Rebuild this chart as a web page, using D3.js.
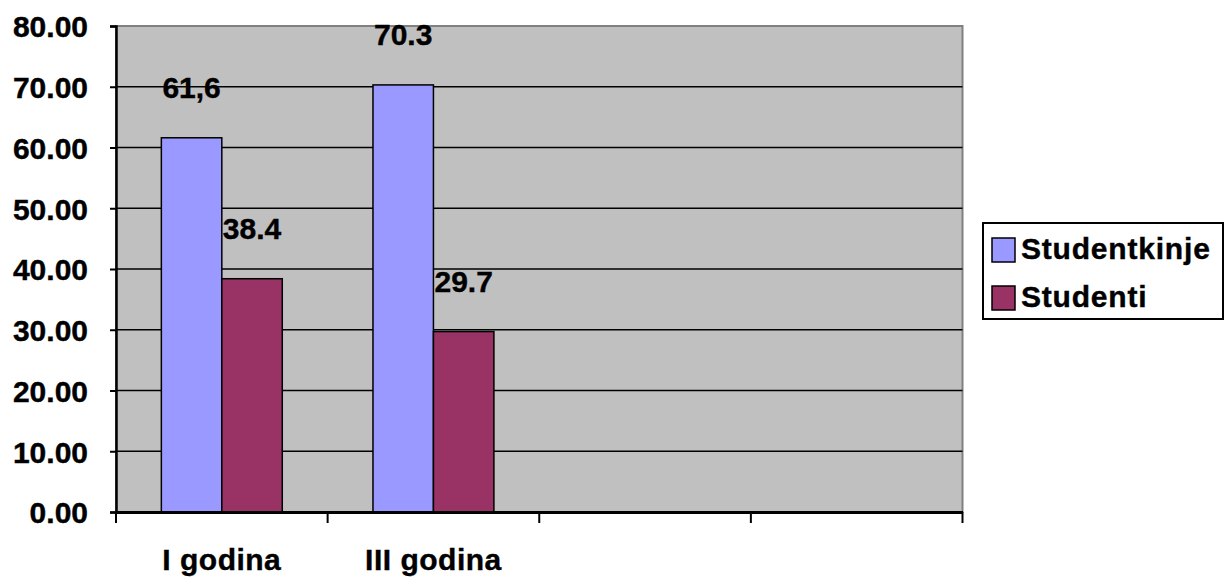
<!DOCTYPE html>
<html><head><meta charset="utf-8">
<script src="https://cdn.jsdelivr.net/npm/d3@7"></script>
<style>
html,body{margin:0;padding:0;background:#fff;}
svg{display:block;}
text{font-family:"Liberation Sans",Arial,sans-serif;font-weight:bold;fill:#000;stroke:#000;stroke-width:0.4px;}
</style></head>
<body>
<svg id="c" width="1225" height="578"></svg>
<script>
const categories = ["I godina", "III godina", "", ""];
const seriesNames = ["Studentkinje", "Studenti"];
const studentkinje = [61.6, 70.3, null, null];
const studenti = [38.4, 29.7, null, null];
const valueLabels = [["61,6", "38.4"], ["70.3", "29.7"]];
const yTicks = [0, 10, 20, 30, 40, 50, 60, 70, 80];
const colors = ["#9999FF", "#993366"];

const svg = d3.select("#c");
const L = 116, R = 962.5, T = 26, B = 512;
const FS = 30;

const x0 = d3.scaleBand().domain(d3.range(categories.length)).range([L, R]).padding(0);
const x1 = d3.scaleBand().domain(seriesNames).range([0, x0.bandwidth()]).paddingInner(0).paddingOuter(0.75);
const y = d3.scaleLinear().domain([0, 80]).range([B, T]);

// plot background
svg.append("rect").attr("x", L).attr("y", T).attr("width", R - L).attr("height", B - T)
  .attr("fill", "#C0C0C0").attr("stroke", "#808080").attr("stroke-width", 2);

// gridlines
svg.append("g").selectAll("line").data(yTicks.filter(d => d > 0 && d < 80)).join("line")
  .attr("x1", L).attr("x2", R).attr("y1", d => y(d)).attr("y2", d => y(d))
  .attr("stroke", "#000").attr("stroke-width", 1.5);

// bars
const data = categories.map((c, i) => ({ i, vals: [studentkinje[i], studenti[i]] }));
const groups = svg.append("g").selectAll("g").data(data).join("g")
  .attr("transform", d => `translate(${x0(d.i)},0)`);
groups.selectAll("rect").data(d => d.vals.map((v, k) => ({ v, k })).filter(e => e.v != null)).join("rect")
  .attr("x", e => x1(seriesNames[e.k]))
  .attr("width", x1.bandwidth())
  .attr("y", e => y(e.v))
  .attr("height", e => y(0) - y(e.v))
  .attr("fill", e => colors[e.k])
  .attr("stroke", "#000").attr("stroke-width", 1.5);

// value labels
groups.selectAll("text.val").data(d => d.vals.map((v, k) => ({ v, k, i: d.i })).filter(e => e.v != null)).join("text")
  .attr("class", "val")
  .attr("x", e => x1(seriesNames[e.k]) + x1.bandwidth() / 2)
  .attr("y", e => y(e.v) - 40)
  .attr("text-anchor", "middle")
  .attr("font-size", FS)
  .text(e => valueLabels[e.i][e.k]);

// y axis
const yAxis = d3.axisLeft(y).tickValues(yTicks).tickFormat(d3.format(".2f")).tickSize(6).tickPadding(22);
const gy = svg.append("g").attr("transform", `translate(${L},0)`).call(yAxis);
gy.select(".domain").attr("stroke", "#000").attr("stroke-width", 2.5);
gy.selectAll(".tick line").attr("stroke", "#000").attr("stroke-width", 2);
gy.selectAll(".tick text").attr("font-size", FS)
  .attr("font-family", "'Liberation Sans',Arial,sans-serif").attr("font-weight", "bold").attr("fill", "#000")
  .attr("dy", "0.36em");

// x axis
const xAxis = d3.axisBottom(x0).tickValues([]).tickSize(0);
const gx = svg.append("g").attr("transform", `translate(0,${B})`).call(xAxis);
gx.select(".domain").attr("stroke", "#000").attr("stroke-width", 3);
const boundaries = d3.range(categories.length + 1).map(i => i < categories.length ? x0(i) : x0(i - 1) + x0.bandwidth());
gx.selectAll("line.b").data(boundaries).join("line").attr("class", "b")
  .attr("x1", d => d).attr("x2", d => d).attr("y1", 0).attr("y2", 11)
  .attr("stroke", "#000").attr("stroke-width", 2);
gx.selectAll("text.cat").data(categories.map((c, i) => ({ c, i }))).join("text").attr("class", "cat")
  .attr("x", d => x0(d.i) + x0.bandwidth() / 2).attr("y", 58)
  .attr("text-anchor", "middle").attr("font-size", FS).attr("letter-spacing", "0.5px")
  .text(d => d.c);

// legend
const lg = svg.append("g");
lg.append("rect").attr("x", 983).attr("y", 223).attr("width", 240).attr("height", 96)
  .attr("fill", "#fff").attr("stroke", "#000").attr("stroke-width", 2);
const items = lg.selectAll("g").data(seriesNames).join("g")
  .attr("transform", (d, i) => `translate(992,${238 + i * 48})`);
items.append("rect").attr("width", 23).attr("height", 24)
  .attr("fill", (d, i) => colors[i]).attr("stroke", "#000").attr("stroke-width", 1.5);
items.append("text").attr("x", 29).attr("y", 21).attr("font-size", FS).attr("letter-spacing", "0.8px").text(d => d);
</script>
</body></html>
